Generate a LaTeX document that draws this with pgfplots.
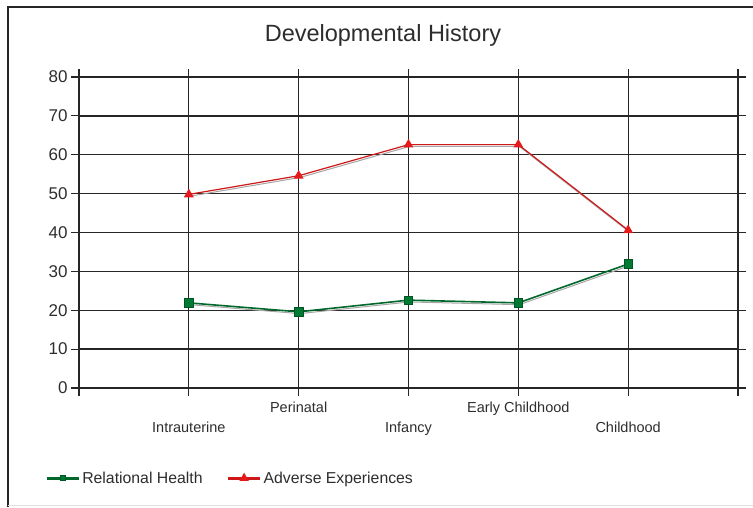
\documentclass[border=0pt]{standalone}
\usepackage{pgfplots}
\pgfplotsset{compat=1.18}
\usepackage{fontspec}
\setmainfont{Liberation Sans}

\definecolor{relgreen}{RGB}{0,122,51}
\definecolor{advred}{RGB}{228,26,28}
\definecolor{txt}{RGB}{45,45,45}

\begin{document}
\begin{tikzpicture}
  \begin{axis}[
    scale only axis,
    width=659pt, height=311pt,
    xmin=0, xmax=6, ymin=0, ymax=80,
    xtick={0,1,2,3,4,5,6},
    xticklabels={,{\mbox{}\\[14pt]Intrauterine},{Perinatal\\[14pt]\mbox{}},{\mbox{}\\[14pt]Infancy},{Early Childhood\\[14pt]\mbox{}},{\mbox{}\\[14pt]Childhood},},
    ytick={0,10,...,80},
    grid=major,
    major grid style={black!85, line width=1.3pt},
    axis line style={black!85, line width=1.3pt},
    tick align=outside,
    major tick length=8pt,
    tick style={black!85, line width=1.2pt},
    xticklabel style={align=center, font=\fontsize{14.5}{17}\selectfont, text=txt, yshift=-2pt},
    yticklabel style={font=\fontsize{17}{19}\selectfont, text=txt},
    /pgf/number format/assume math mode=true,
    clip=false,
    legend columns=2,
    legend style={draw=none, fill=none, at={(-0.056,-0.29)}, anchor=west,
      font=\fontsize{15.8}{18}\selectfont, text=txt,
      /tikz/every even column/.append style={column sep=22pt}},
    legend image code/.code={
      \draw[line width=3pt, mark size=2.5pt, mark repeat=2, mark phase=2] plot coordinates {(0pt,0pt) (16pt,0pt) (32pt,0pt)};
    },
  ]
    % shadows
    \addplot[gray!70, line width=1pt, yshift=-1.8pt, xshift=1pt, forget plot] coordinates {
      (1,49.8) (2,54.6) (3,62.6) (4,62.6) (5,40.6)
    };
    \addplot[gray!70, line width=1pt, yshift=-1.8pt, xshift=1pt, forget plot] coordinates {
      (1,21.9) (2,19.6) (3,22.6) (4,21.9) (5,31.9)
    };

    \addplot[relgreen!85!black, line width=1.6pt, mark=square*, mark size=4.3pt,
      mark options={fill=relgreen, draw=relgreen!70!black, line width=0.6pt}] coordinates {
      (1,21.9) (2,19.6) (3,22.6) (4,21.9) (5,31.9)
    };
    \addlegendentry{Relational Health}

    \addplot[advred!90!black, line width=1.2pt, mark=triangle*, mark size=4.5pt,
      mark options={fill=advred, draw=advred}] coordinates {
      (1,49.8) (2,54.6) (3,62.6) (4,62.6) (5,40.6)
    };
    \addlegendentry{Adverse Experiences}
  \end{axis}
  \node[text=txt, font=\fontsize{23.5}{26}\selectfont] at (304pt,353pt) {Developmental History};
  \draw[black!85, line width=1.4pt] (-71pt,-119pt) -- (-71pt,381pt) -- (674pt,381pt);
  \draw[black!12, line width=0.8pt] (-71pt,-117pt) -- (674pt,-117pt);
  \pgfresetboundingbox
  \path[use as bounding box] (-79pt,-119pt) rectangle (674pt,388pt);
\end{tikzpicture}
\end{document}
